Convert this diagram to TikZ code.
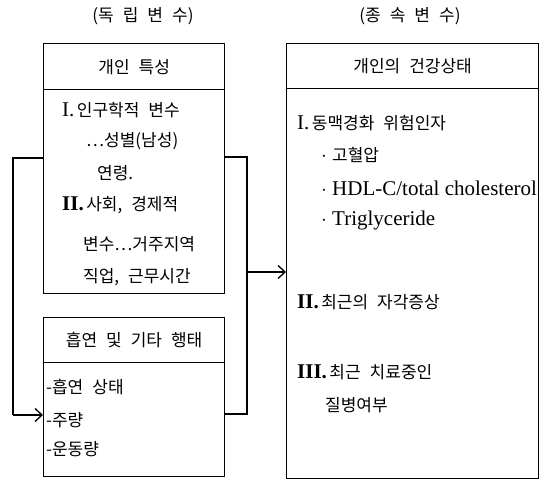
\documentclass[tikz,border=0pt]{standalone}
\usepackage{fontspec}
\setmainfont{Liberation Serif}
\newfontfamily\krf{Noto Sans CJK KR}
\usetikzlibrary{arrows.meta}
\newcommand{\kr}[1]{{\krf\fontsize{17}{19}\selectfont\spaceskip=9pt\relax #1}}
\newcommand{\lat}[1]{{\fontsize{21}{23}\selectfont #1}}
\newcommand{\latb}[1]{{\fontsize{21}{23}\selectfont #1}}
\tikzset{
  box/.style={draw, line width=1.3pt, inner sep=0pt, anchor=north west},
  line/.style={line width=1.3pt},
  arr/.style={line width=1.3pt, -{Straight Barb[length=7pt,width=13pt,line width=1.3pt]}},
  txt/.style={anchor=west, inner sep=0pt},
}
\begin{document}
\begin{tikzpicture}[x=1pt,y=-1pt]
\useasboundingbox (0,0) rectangle (541,486);
% titles
\node[inner sep=0pt] (t1) at (143,16) {\kr{(독 립 변 수)}};
\node[inner sep=0pt] (t2) at (410,16) {\kr{(종 속 변 수)}};
% left upper box
\node[box, minimum width=181pt, minimum height=46pt] (pch) at (43,43) {\kr{개인 특성}};
\node[box, minimum width=181pt, minimum height=204pt] (pcb) at (43,89) {};
\node[txt] (p1) at (62,110) {\lat{I.} \kr{인구학적 변수}};
\node[txt] (p2) at (86,141) {\kr{…성별(남성)}};
\node[txt] (p3) at (97,173) {\kr{연령.}};
\node[txt] (p4) at (62,205) {\lat{\textbf{II.}} \kr{사회, 경제적}};
\node[txt] (p5) at (83,244) {\kr{변수…거주지역}};
\node[txt] (p6) at (83,277) {\kr{직업, 근무시간}};
% left lower box
\node[box, minimum width=181pt, minimum height=45pt] (smh) at (43,317) {\kr{흡연 및 기타 행태}};
\node[box, minimum width=181pt, minimum height=114pt] (smb) at (43,362) {};
\node[txt] (s1) at (46,387) {\kr{-흡연 상태}};
\node[txt] (s2) at (46,420) {\kr{-주량}};
\node[txt] (s3) at (46,449) {\kr{-운동량}};
% right box
\node[box, minimum width=252pt, minimum height=45pt] (hsh) at (286,43) {\kr{개인의 건강상태}};
\node[box, minimum width=252pt, minimum height=390pt] (hsb) at (286,88) {};
\node[txt] (h1) at (297,123) {\lat{I.} \kr{동맥경화 위험인자}};
\node[txt] (h2) at (321,155) {\latb{$\cdot$ }\kr{고혈압}};
\node[txt] (h3) at (321,188) {\latb{$\cdot$ HDL-C/total cholesterol}};
\node[txt] (h4) at (321,220) {\latb{$\cdot$ Triglyceride}};
\node[txt] (h5) at (297,302) {\lat{\textbf{II.}} \kr{최근의 자각증상}};
\node[txt] (h6) at (297,372) {\lat{\textbf{III.}} \kr{최근 치료중인}};
\node[txt] (h7) at (325,405) {\kr{질병여부}};
% connectors
\coordinate (lt1) at (13,158);
\coordinate (lb1) at (13,415);
\coordinate (rt1) at (247,157);
\coordinate (rb1) at (247,414);
\coordinate (rm1) at (247,272);
\draw[line] (pcb.west |- lt1) -- (lt1) -- (lb1);
\draw[arr] (lb1) -- (smb.west |- lb1);
\draw[line] (pcb.east |- rt1) -- (rt1) -- (rb1) -- (smb.east |- rb1);
\draw[arr] (rm1) -- (hsb.west |- rm1);
\end{tikzpicture}
\end{document}
